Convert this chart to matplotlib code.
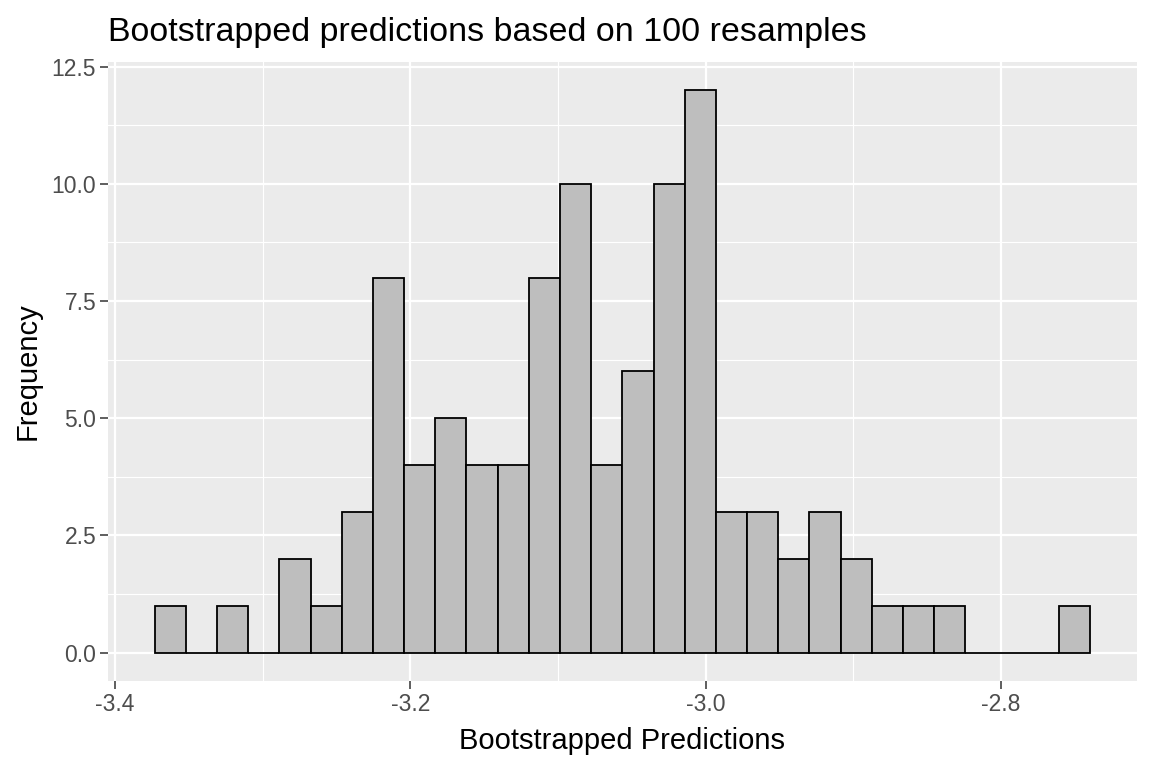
import numpy as np
import matplotlib
matplotlib.use("Agg")
import matplotlib.pyplot as plt
from matplotlib.ticker import FixedLocator

# Data
bin_start = -3.3730
bin_end = -2.7397
counts = [1, 0, 1, 0, 2, 1, 3, 8, 4, 5, 4, 4, 8, 10, 4, 6, 10, 12,
          3, 3, 2, 3, 2, 1, 1, 1, 0, 0, 0, 1]
x_ticks = [-3.4, -3.2, -3.0, -2.8]
x_tick_labels = ["-3.4", "-3.2", "-3.0", "-2.8"]
y_ticks = [0.0, 2.5, 5.0, 7.5, 10.0, 12.5]
y_tick_labels = ["0.0", "2.5", "5.0", "7.5", "10.0", "12.5"]

plt.rcParams['font.family'] = ['Liberation Sans', 'DejaVu Sans']

fig = plt.figure(figsize=(11.52, 7.68), dpi=100)
ax = fig.add_axes([108/1152, 1 - 680.7/768, (1136.7 - 108)/1152, (680.7 - 62)/768])
ax.set_facecolor('#EBEBEB')

edges = np.linspace(bin_start, bin_end, len(counts) + 1)
widths = np.diff(edges)
ax.bar(edges[:-1], counts, width=widths, align='edge',
       color='#BEBEBE', edgecolor='black', linewidth=1.3, zorder=3)

rng = bin_end - bin_start
ax.set_xlim(bin_start - 0.05 * rng, bin_end + 0.05 * rng)
ymax = max(counts)
ax.set_ylim(-0.05 * ymax, ymax * 1.05)

ax.xaxis.set_major_locator(FixedLocator(x_ticks))
ax.set_xticklabels(x_tick_labels)
ax.xaxis.set_minor_locator(FixedLocator([-3.3, -3.1, -2.9]))
ax.yaxis.set_major_locator(FixedLocator(y_ticks))
ax.set_yticklabels(y_tick_labels)
ax.yaxis.set_minor_locator(FixedLocator([1.25, 3.75, 6.25, 8.75, 11.25]))

ax.grid(which='major', color='white', linewidth=1.6, zorder=0)
ax.grid(which='minor', color='white', linewidth=0.8, zorder=0)
ax.set_axisbelow(True)

for s in ax.spines.values():
    s.set_visible(False)

ax.tick_params(axis='both', which='major', length=5.5, width=1.1, color='#333333',
               labelcolor='#4D4D4D', labelsize=16.5, pad=3)
ax.tick_params(axis='both', which='minor', length=0)

ax.set_xlabel("Bootstrapped Predictions", fontsize=21, color='black', labelpad=8)
ax.set_ylabel("Frequency", fontsize=21, color='black', labelpad=7)

fig.text(108/1152, 1 - 41/768, "Bootstrapped predictions based on 100 resamples",
         fontsize=24.5, color='black', ha='left', va='baseline')

fig.savefig("out.png", dpi=100)
